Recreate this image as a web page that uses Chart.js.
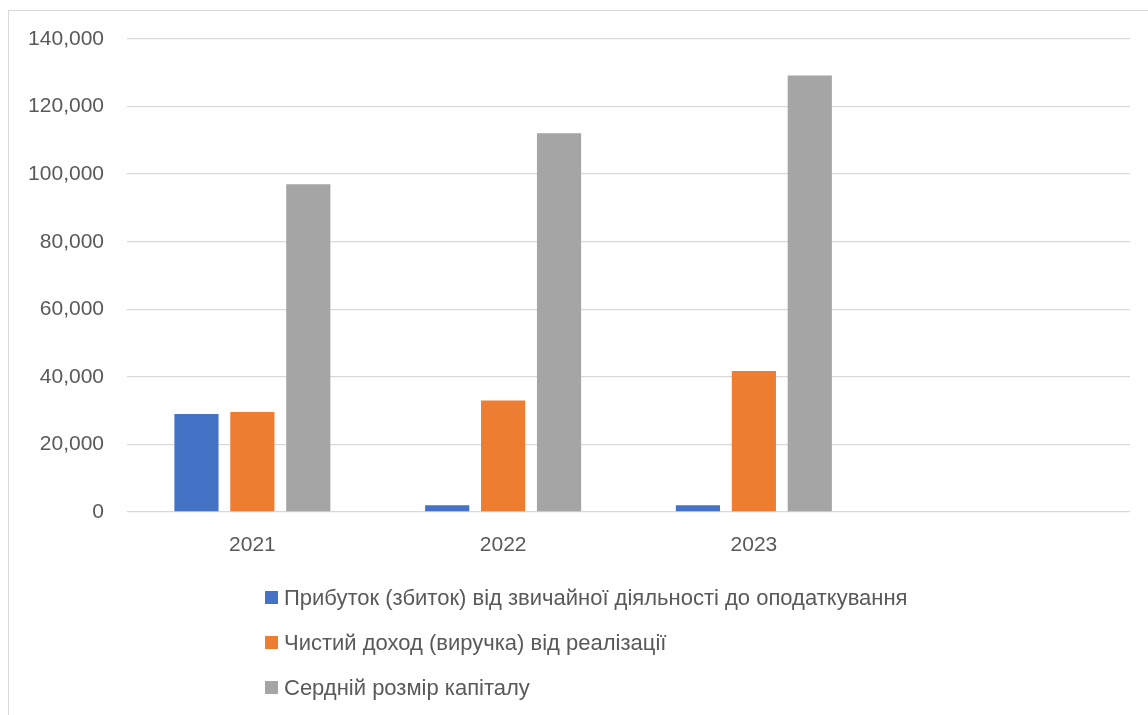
<!DOCTYPE html>
<html>
<head>
<meta charset="utf-8">
<script src="https://cdn.jsdelivr.net/npm/chart.js@4/dist/chart.umd.min.js"></script>
<style>
  html, body { margin: 0; padding: 0; background: #fff; }
  body { width: 1148px; height: 715px; position: relative; overflow: hidden; font-family: "Liberation Sans", Arial, sans-serif; }
  #frame { position: absolute; left: 8px; top: 10px; width: 1160px; height: 720px; border: 1px solid #d9d9d9; box-sizing: border-box; }
  #wrap { position: absolute; left: 0; top: 0; width: 1148px; height: 715px; }
  #legend { position: absolute; left: 265px; top: 575px; }
  .item { display: flex; align-items: center; height: 45px; font-size: 22px; color: #595959; white-space: nowrap; }
  .box { width: 13px; height: 13px; margin-right: 6px; }
</style>
</head>
<body>
<div id="frame"></div>
<div id="wrap"><canvas id="c" width="1148" height="715"></canvas></div>
<div id="legend"></div>
<script>
const categories = ["2021", "2022", "2023", ""];
const seriesNames = [
  "Прибуток (збиток) від звичайної діяльності до оподаткування",
  "Чистий доход (виручка) від реалізації",
  "Сердній розмір капіталу"
];
const profitBeforeTax = [29000, 2000, 2000, null];
const netRevenue = [29600, 33000, 41700, null];
const avgCapital = [97000, 112100, 129200, null];
const seriesColors = ["#4472C4", "#ED7D31", "#A5A5A5"];
const yTicks = [0, 20000, 40000, 60000, 80000, 100000, 120000, 140000];

const seriesValues = [profitBeforeTax, netRevenue, avgCapital];
const datasets = seriesNames.map((name, i) => ({
  label: name,
  data: seriesValues[i],
  backgroundColor: seriesColors[i],
  borderWidth: 0,
  categoryPercentage: 0.669,
  barPercentage: 0.79
}));

const textColor = "#595959";
const font = { family: "'Liberation Sans', Arial, sans-serif", size: 21 };

new Chart(document.getElementById("c"), {
  type: "bar",
  data: { labels: categories, datasets },
  options: {
    responsive: false,
    animation: false,
    layout: { padding: { top: 39, right: 18, bottom: 0, left: 0 } },
    plugins: { legend: { display: false }, tooltip: { enabled: false } },
    scales: {
      x: {
        grid: { display: false, drawTicks: false },
        border: { display: false },
        ticks: { color: textColor, font, padding: 21 },
        afterFit(scale) { scale.height = 203; }
      },
      y: {
        min: yTicks[0],
        max: yTicks[yTicks.length - 1],
        afterBuildTicks(scale) { scale.ticks = yTicks.map(v => ({ value: v })); },
        grid: { color: "#d9d9d9", lineWidth: 1.3, drawTicks: false },
        border: { display: false },
        ticks: {
          color: textColor, font, padding: 23,
          callback: v => v.toLocaleString("en-US")
        },
        afterFit(scale) { scale.width = 127; }
      }
    }
  }
});

const legend = document.getElementById("legend");
seriesNames.forEach((name, i) => {
  const item = document.createElement("div");
  item.className = "item";
  const box = document.createElement("span");
  box.className = "box";
  box.style.background = seriesColors[i];
  const txt = document.createElement("span");
  txt.textContent = name;
  item.appendChild(box);
  item.appendChild(txt);
  legend.appendChild(item);
});
</script>
</body>
</html>
